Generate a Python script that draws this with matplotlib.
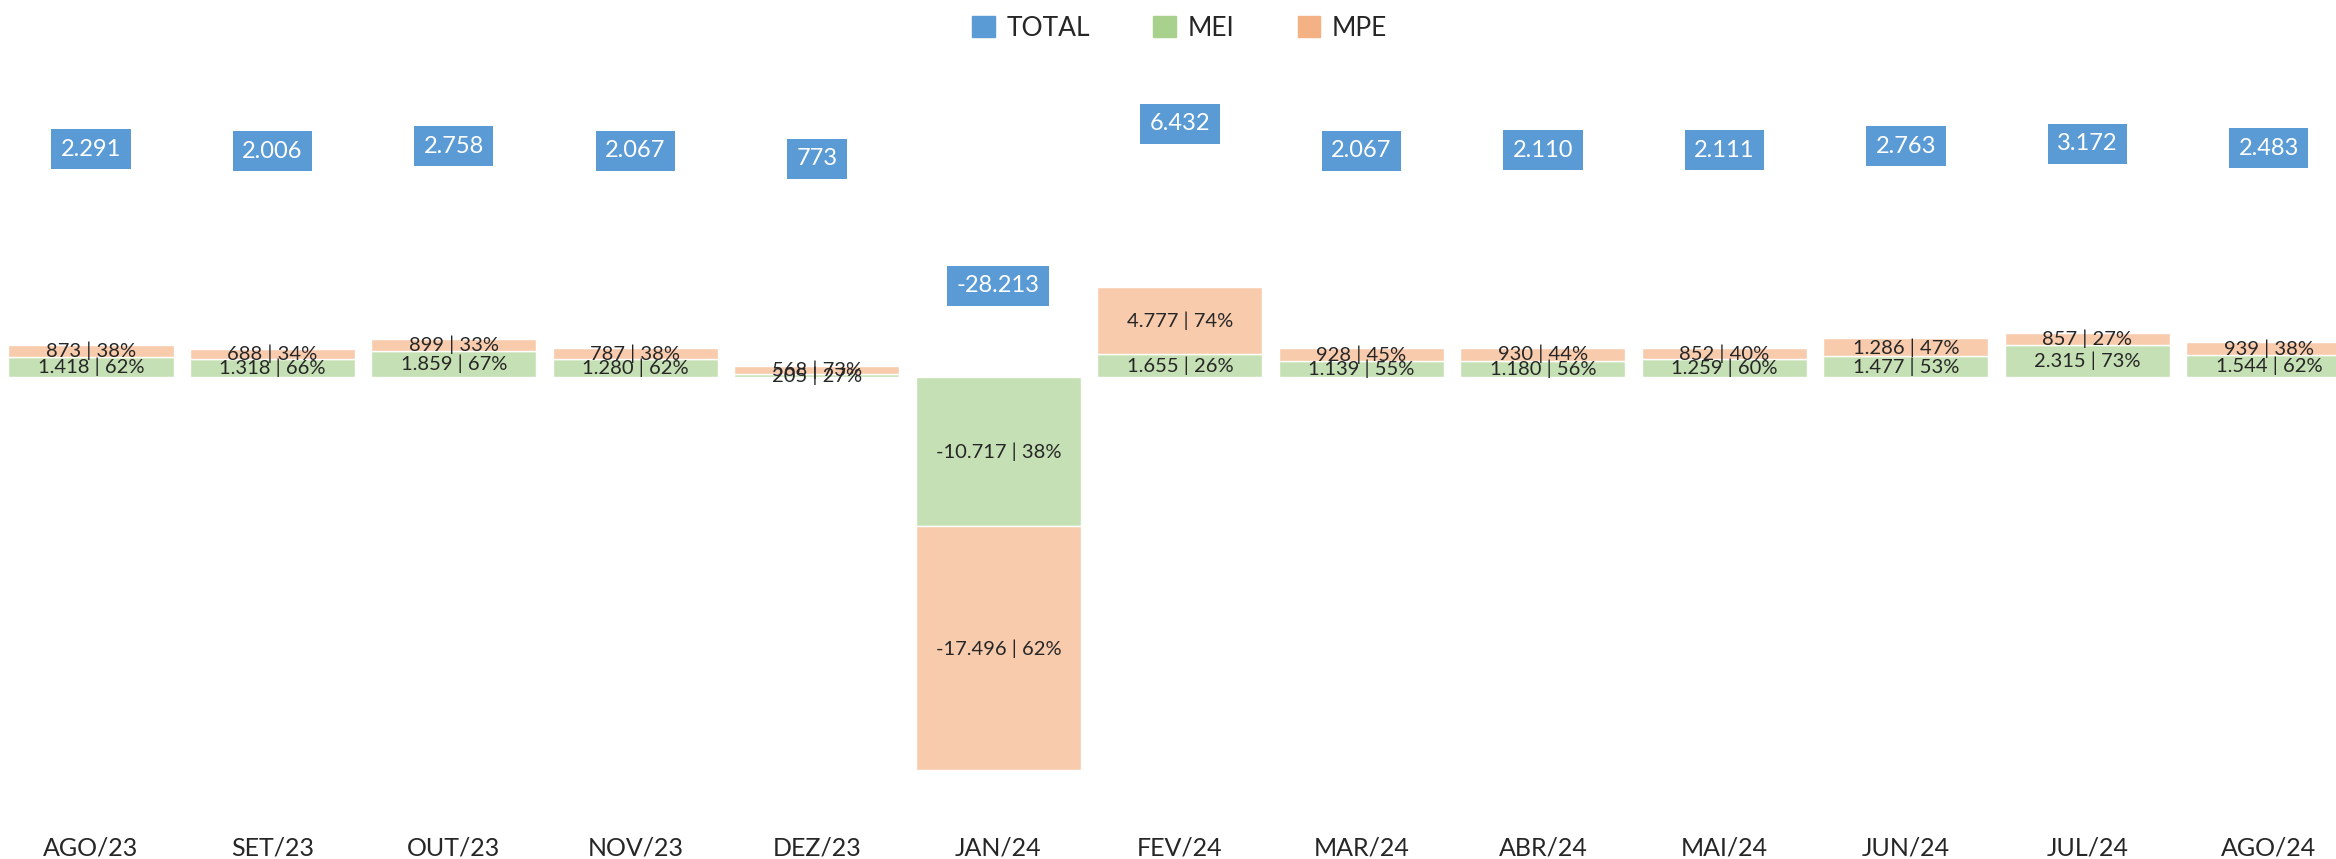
import numpy as np
import matplotlib
matplotlib.use('Agg')
import matplotlib.pyplot as plt
from matplotlib.patches import Patch

# saldo de empregos por porte (MEI x MPE), mês a mês
meses = ['AGO/23', 'SET/23', 'OUT/23', 'NOV/23', 'DEZ/23', 'JAN/24', 'FEV/24',
         'MAR/24', 'ABR/24', 'MAI/24', 'JUN/24', 'JUL/24', 'AGO/24']
mei = [1418, 1318, 1859, 1280, 205, -10717, 1655, 1139, 1180, 1259, 1477, 2315, 1544]
mpe = [873, 688, 899, 787, 568, -17496, 4777, 928, 930, 852, 1286, 857, 939]
total = [2291, 2006, 2758, 2067, 773, -28213, 6432, 2067, 2110, 2111, 2763, 3172, 2483]

cor_total = '#5B9BD5'
cor_mei = '#A9D18E'
cor_mpe = '#F4B183'
cor_mei_barra = '#C5E0B4'
cor_mpe_barra = '#F8CBAD'
cor_texto = '#262626'

plt.rcParams['font.family'] = ['Lato', 'DejaVu Sans']


def fmt(v):
    return f'{v:,}'.replace(',', '.')


def pct(parte, tot):
    return int(abs(parte) / abs(tot) * 100 + 0.5)


fig = plt.figure(figsize=(23.36, 8.59), dpi=100)
ax = fig.add_axes([0, 59 / 859, 1, 800 / 859])
x = np.arange(len(meses))
largura = 0.91

ax.bar(x, mei, width=largura, color=cor_mei_barra, edgecolor='white', linewidth=1)
ax.bar(x, mpe, width=largura, bottom=mei, color=cor_mpe_barra, edgecolor='white', linewidth=1)

for i in range(len(meses)):
    ax.text(x[i], mei[i] / 2, f'{fmt(mei[i])} | {pct(mei[i], total[i])}%',
            ha='center', va='center', fontsize=14.5, color=cor_texto)
    ax.text(x[i], mei[i] + mpe[i] / 2, f'{fmt(mpe[i])} | {pct(mpe[i], total[i])}%',
            ha='center', va='center', fontsize=14.5, color=cor_texto)

ax.set_xlim(-0.501, 12.37)
ax.set_ylim(-30340, 27040)
ax.set_xticks(x, meses)
ax.tick_params(axis='x', length=0, pad=26, labelsize=18, labelcolor=cor_texto)
ax.set_yticks([])
for s in ax.spines.values():
    s.set_visible(False)

# total no eixo secundário, só com os rótulos
ax2 = ax.twinx()
ax2.set_ylim(-103010, 26440)
ax2.set_yticks([])
for s in ax2.spines.values():
    s.set_visible(False)
for i in range(len(meses)):
    desloc = 52 if total[i] < 0 else 0
    ax2.annotate(fmt(total[i]), (x[i], total[i]), xytext=(0, desloc),
                 textcoords='offset pixels', ha='center', va='center',
                 fontsize=17, color='white',
                 bbox=dict(boxstyle='square,pad=0.4', fc=cor_total, ec='none'))

handles = [Patch(color=cor_total), Patch(color=cor_mei), Patch(color=cor_mpe)]
fig.legend(handles, ['TOTAL', 'MEI', 'MPE'], loc='center',
           bbox_to_anchor=(0.505, 1 - 28 / 859), ncol=3, frameon=False,
           fontsize=19, handlelength=0.85, handleheight=0.85,
           handletextpad=0.45, columnspacing=2.4, labelcolor=cor_texto)

fig.savefig('out.png', dpi=100)
